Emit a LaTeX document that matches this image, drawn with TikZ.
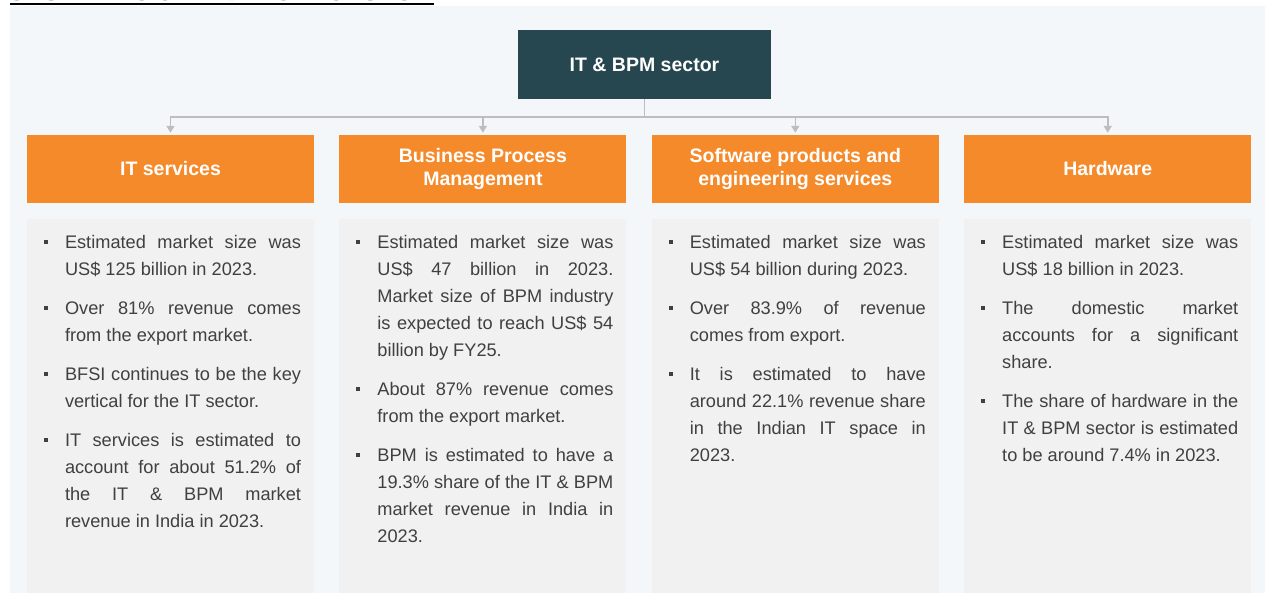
\documentclass[tikz,border=0pt]{standalone}
\usepackage{fontspec}
\setmainfont{Liberation Sans}
\newfontfamily\titlefont{Liberation Serif}
\usepackage{tikz}
\usetikzlibrary{positioning,arrows.meta,calc}
\definecolor{segTeal}{HTML}{264750}
\definecolor{segOrange}{HTML}{F58A2B}
\definecolor{segGrey}{HTML}{F1F1F1}
\definecolor{segPanel}{HTML}{F4F7FA}
\definecolor{segText}{HTML}{404040}
\definecolor{segLine}{HTML}{BDBDBD}
% one bullet paragraph: square in the margin, lines hung at 23pt
\newcommand{\segpt}[1]{\par\hangindent=23pt\hangafter=0\noindent
  \llap{\rule[4.5pt]{4pt}{4pt}\hspace{17pt}}#1\par}
\tikzset{
  sectorbox/.style={fill=segTeal, text=white, font=\bfseries\fontsize{19.5}{23}\selectfont,
                    minimum width=253pt, minimum height=69pt, inner sep=0pt},
  segbox/.style={fill=segOrange, text=white, font=\bfseries\fontsize{19.5}{23}\selectfont,
                 align=center, minimum width=287pt, minimum height=68pt, inner sep=0pt},
  bodybox/.style={fill=segGrey, minimum width=287pt, minimum height=390pt, inner sep=0pt},
  bodytext/.style={text=segText, text width=259pt, align=justify, inner sep=0pt,
                   anchor=base west,
                   font={\fontsize{18.2}{27}\selectfont\setlength{\parskip}{12pt}\tolerance=9999}},
  treeline/.style={draw=segLine, line width=1.6pt},
  treearrow/.style={treeline, -{Triangle[length=7pt,width=8pt]}, shorten >=2pt},
}

\begin{document}
\begin{tikzpicture}[x=1pt, y=-1pt]
\useasboundingbox (0,0) rectangle (1265,593);
\clip (0,0) rectangle (1265,593);
\fill[white] (0,0) rectangle (1265,593);
\fill[segPanel] (10,6) rectangle (1265,593);

%% Title (cut off by the top edge)
\node[anchor=base west, inner sep=0pt, font=\titlefont\bfseries\fontsize{25}{30}\selectfont]
  (title) at (10,1) {SEGMENTS OF INDIA'S IT SECTOR};
\draw[line width=2pt] ([yshift=-3.5pt]title.base west) -- ([yshift=-3.5pt,xshift=2pt]title.base east);

%% Root
\node[sectorbox] (sector) at (644.5,64.5) {IT \& BPM sector};

%% Segments
\node[segbox] (its) at (170.5,169) {IT services};
\node[segbox, right=25pt of its] (bpm) {Business Process\\Management};
\node[segbox, right=25pt of bpm] (spes) {Software products and\\engineering services};
\node[segbox, right=25pt of spes] (hw) {Hardware};

\node[bodybox, below=16pt of its] (itsbody) {};
\node[bodybox, below=16pt of bpm] (bpmbody) {};
\node[bodybox, below=16pt of spes] (spesbody) {};
\node[bodybox, below=16pt of hw] (hwbody) {};

%% Tree
\coordinate (hub) at ($(sector.south)+(0,18)$);
\draw[treeline] (sector.south) -- (hub);
\foreach \seg in {its,bpm,spes,hw}
  \draw[treearrow] (hub) -| (\seg.north);

%% Bullet texts
\node[bodytext, xshift=15pt, yshift=10pt] (itstext) at (itsbody.north west) {%
  \segpt{Estimated market size was\linebreak US\$ 125 billion in 2023.}
  \segpt{Over 81\% revenue comes\linebreak from the export market.}
  \segpt{BFSI continues to be the key\linebreak vertical for the IT sector.}
  \segpt{IT services is estimated to\linebreak account for about 51.2\% of\linebreak
         the IT \& BPM market\linebreak revenue in India in 2023.}};
\node[bodytext, xshift=15pt, yshift=10pt] (bpmtext) at (bpmbody.north west) {%
  \segpt{Estimated market size was\linebreak US\$ 47 billion in 2023.\linebreak
         Market size of BPM industry\linebreak is expected to reach US\$ 54\linebreak
         billion by FY25.}
  \segpt{About 87\% revenue comes\linebreak from the export market.}
  \segpt{BPM is estimated to have a\linebreak 19.3\% share of the IT \& BPM\linebreak
         market revenue in India in\linebreak 2023.}};
\node[bodytext, xshift=15pt, yshift=10pt] (spestext) at (spesbody.north west) {%
  \segpt{Estimated market size was\linebreak US\$ 54 billion during 2023.}
  \segpt{Over 83.9\% of revenue\linebreak comes from export.}
  \segpt{It is estimated to have\linebreak around 22.1\% revenue share\linebreak
         in the Indian IT space in\linebreak 2023.}};
\node[bodytext, xshift=15pt, yshift=10pt] (hwtext) at (hwbody.north west) {%
  \segpt{Estimated market size was\linebreak US\$ 18 billion in 2023.}
  \segpt{The domestic market\linebreak accounts for a significant\linebreak share.}
  \segpt{The share of hardware in the\linebreak IT \& BPM sector is estimated\linebreak
         to be around 7.4\% in 2023.}};
\end{tikzpicture}
\end{document}
